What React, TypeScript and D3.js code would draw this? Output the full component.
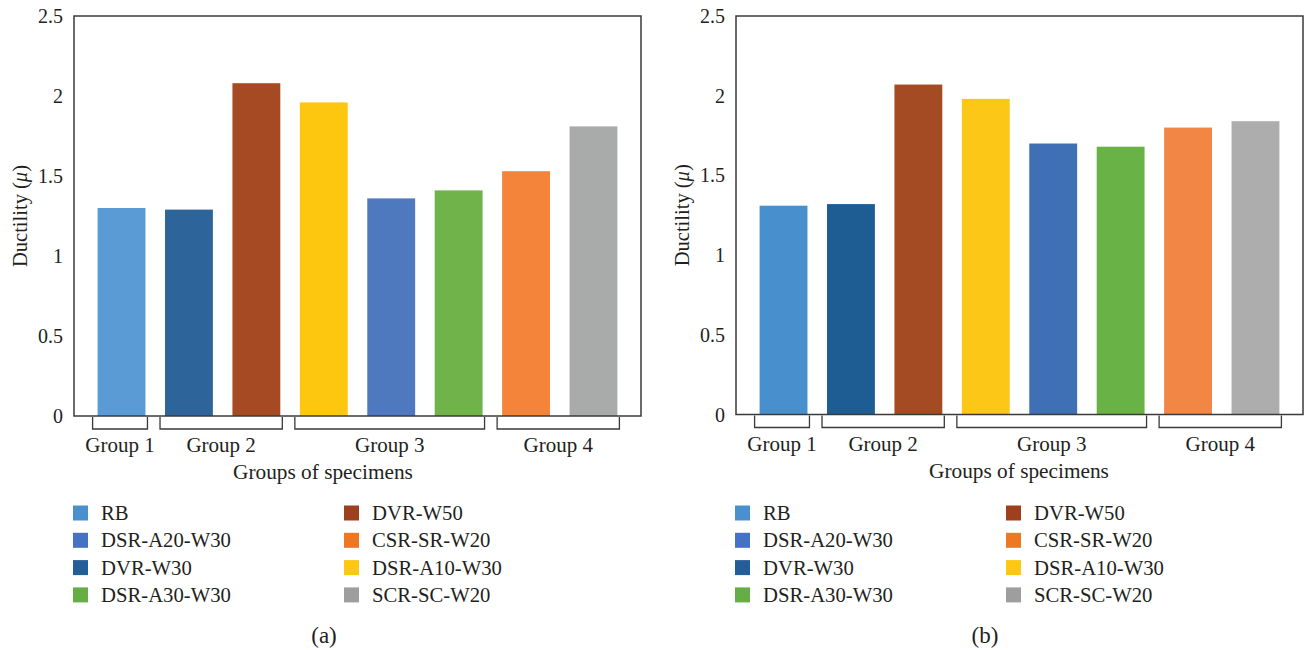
import React from 'react';
import * as d3 from 'd3';

const specimens = ['RB', 'DVR-W30', 'DVR-W50', 'DSR-A10-W30', 'DSR-A20-W30', 'DSR-A30-W30', 'CSR-SR-W20', 'SCR-SC-W20'];
const ductilityA = [1.30, 1.29, 2.08, 1.96, 1.36, 1.41, 1.53, 1.81];
const ductilityB = [1.31, 1.32, 2.07, 1.98, 1.70, 1.68, 1.80, 1.84];
const barColorsA = ['#5b9bd5', '#2d659b', '#a54a23', '#fcc70e', '#4e79be', '#70b34a', '#f3843a', '#a9aaaa'];
const barColorsB = ['#4890cd', '#1e5c94', '#a44b23', '#fcc716', '#3f6fb5', '#69b245', '#f18645', '#acadac'];
const groupLabels = ['Group 1', 'Group 2', 'Group 3', 'Group 4'];
const groupFirst = [0, 1, 3, 6];
const groupLast = [0, 2, 5, 7];
const yTicks = [0, 0.5, 1, 1.5, 2, 2.5];
const legendCol1 = ['RB', 'DSR-A20-W30', 'DVR-W30', 'DSR-A30-W30'];
const legendCol2 = ['DVR-W50', 'CSR-SR-W20', 'DSR-A10-W30', 'SCR-SC-W20'];
const legendColorNames = ['RB', 'DSR-A20-W30', 'DVR-W30', 'DSR-A30-W30', 'DVR-W50', 'CSR-SR-W20', 'DSR-A10-W30', 'SCR-SC-W20'];
const legendColorValues = ['#4a90ce', '#4472c4', '#255e97', '#67ad45', '#9e3f1e', '#ee7722', '#fcc812', '#9e9e9e'];

const FONT = '"Liberation Serif", "Times New Roman", serif';
const TEXT = '#231f20';

type PanelProps = {
  left: number; right: number; top: number; bottom: number;
  values: number[]; colors: string[];
  titleX: number; captionX: number; caption: string;
};

function Panel({ left, right, top, bottom, values, colors, titleX, captionX, caption }: PanelProps) {
  const x = d3.scaleBand<string>().domain(specimens).range([left, right]).paddingInner(0.29).paddingOuter(0.35);
  const y = d3.scaleLinear().domain([0, 2.5]).range([bottom, top]);
  const bw = x.bandwidth();
  const legendColor = (n: string) => legendColorValues[legendColorNames.indexOf(n)];
  const rowY = (i: number) => 513 + i * 27.3;
  return (
    <g fontFamily={FONT} fill={TEXT}>
      {specimens.map((s, i) => (
        <rect key={s} x={x(s)} y={y(values[i])} width={bw} height={y(0) - y(values[i])} fill={colors[i]} />
      ))}
      <rect x={left} y={top} width={right - left} height={bottom - top} fill="none" stroke="#3a3a3a" strokeWidth={1.5} />
      {yTicks.map(t => (
        <text key={t} x={left - 11} y={y(t)} textAnchor="end" dominantBaseline="central" fontSize={20}>{String(t)}</text>
      ))}
      <text transform={`translate(${left - 54},${(top + bottom) / 2}) rotate(-90)`} textAnchor="middle" dominantBaseline="central" fontSize={20.5}>
        Ductility (<tspan fontStyle="italic">μ</tspan>)
      </text>
      {groupLabels.map((g, i) => {
        const x0 = (x(specimens[groupFirst[i]]) as number) - 5;
        const x1 = (x(specimens[groupLast[i]]) as number) + bw + 2;
        const yb = bottom + 13;
        return (
          <g key={g}>
            <path d={`M${x0},${bottom + 1}V${yb}H${x1}V${bottom + 1}`} fill="none" stroke="#3a3a3a" strokeWidth={1.3} />
            <text x={(x0 + x1) / 2} y={bottom + 36} textAnchor="middle" fontSize={21}>{g}</text>
          </g>
        );
      })}
      <text x={titleX} y={bottom + 63} textAnchor="middle" fontSize={21.3}>Groups of specimens</text>
      {[legendCol1, legendCol2].map((col, c) => (
        <g key={c}>
          {col.map((n, i) => (
            <g key={n}>
              <rect x={left - 1 + c * 271} y={rowY(i) - 7.5} width={15} height={15} fill={legendColor(n)} />
              <text x={left + 27 + c * 271} y={rowY(i)} dominantBaseline="central" fontSize={20.7}>{n}</text>
            </g>
          ))}
        </g>
      ))}
      <text x={captionX} y={635} textAnchor="middle" dominantBaseline="central" fontSize={23}>{caption}</text>
    </g>
  );
}

export default function App() {
  return (
    <svg width={1306} height={650} style={{ position: 'absolute', left: 0, top: 0, background: '#fff' }}>
      <rect width={1306} height={650} fill="#fff" />
      <Panel left={74} right={641} top={16} bottom={416} values={ductilityA} colors={barColorsA} titleX={323} captionX={324} caption="(a)" />
      <Panel left={736} right={1303} top={16} bottom={414.5} values={ductilityB} colors={barColorsB} titleX={1019} captionX={985} caption="(b)" />
    </svg>
  );
}
